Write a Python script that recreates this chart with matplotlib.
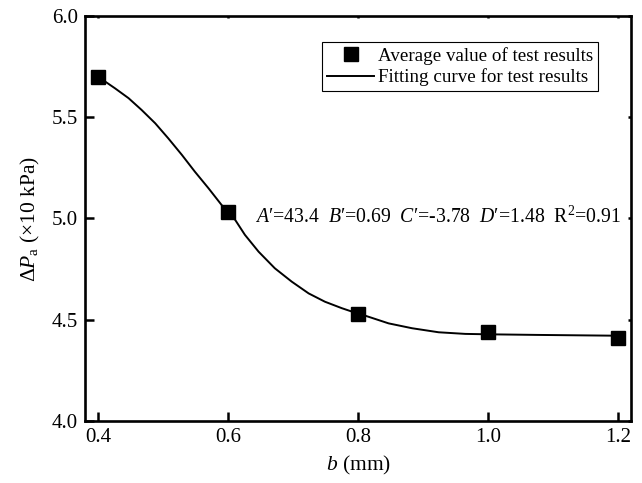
import matplotlib
matplotlib.use("Agg")
import matplotlib.pyplot as plt

plt.rcParams['font.family'] = ['Liberation Serif', 'DejaVu Serif']
plt.rcParams['mathtext.fontset'] = 'custom'
plt.rcParams['mathtext.rm'] = 'Liberation Serif'
plt.rcParams['mathtext.it'] = 'Liberation Serif:italic'

# measured averages
b_test = [0.4, 0.6, 0.8, 1.0, 1.2]
dp_test = [5.70, 5.03, 4.53, 4.44, 4.41]

# fitting curve
b_fit = [0.400, 0.411, 0.426, 0.447, 0.467, 0.488, 0.508, 0.529, 0.549, 0.570,
         0.590, 0.600, 0.611, 0.626, 0.647, 0.672, 0.698, 0.724, 0.749, 0.775,
         0.800, 0.811, 0.847, 0.883, 0.924, 0.965, 1.000, 1.075, 1.200]
dp_fit = [5.700, 5.676, 5.643, 5.594, 5.536, 5.470, 5.396, 5.314, 5.231, 5.149,
          5.067, 5.030, 4.993, 4.919, 4.836, 4.754, 4.688, 4.630, 4.589, 4.557,
          4.530, 4.520, 4.482, 4.458, 4.438, 4.430, 4.428, 4.425, 4.421]

x_ticks = [0.4, 0.6, 0.8, 1.0, 1.2]
y_ticks = [4.0, 4.5, 5.0, 5.5, 6.0]

fig = plt.figure(figsize=(6.42, 4.83), dpi=100)
ax = fig.add_axes([0.1324, 0.1284, 0.8506, 0.8386])

ax.plot(b_fit, dp_fit, color='black', lw=1.4, label='Fitting curve for test results', zorder=2)
ax.plot(b_test, dp_test, ls='none', marker='s', ms=10, color='black',
        label='Average value of test results', zorder=3)

ax.set_xlim(0.38, 1.22)
ax.set_ylim(4.0, 6.0)
ax.set_xticks(x_ticks)
ax.set_yticks(y_ticks)
ax.set_xticklabels(['%.1f' % v for v in x_ticks])
ax.set_yticklabels(['%.1f' % v for v in y_ticks])

for s in ax.spines.values():
    s.set_linewidth(1.9)
ax.tick_params(axis='both', direction='in', length=6.5, width=1.8, labelsize=15, pad=5)
ax.tick_params(top=True, right=True, labeltop=False, labelright=False)
# tiny marks on top / right spines
for t in ax.xaxis.get_major_ticks():
    t.tick2line.set_markersize(1.5)
    t.tick2line.set_marker(3)
for t in ax.yaxis.get_major_ticks():
    t.tick2line.set_markersize(2)
    t.tick2line.set_marker(0)

ax.set_xlabel(r'$b$ (mm)', fontsize=15.5, labelpad=5)
ax.set_ylabel(r'$ΔP_{\mathrm{a}}$ (×10 kPa)', fontsize=15.5, labelpad=7)

ax.text(0.6415, 5.005, r"$A′$=43.4  $B′$=0.69  $C′$=-3.78  $D′$=1.48  R$^2$=0.91",
        fontsize=14.2, va='center', ha='left')

handles, labels = ax.get_legend_handles_labels()
leg = fig.legend(handles[::-1], labels[::-1], loc='upper left',
                 bbox_to_anchor=(0.5016, 0.913), fontsize=13.7, frameon=True,
                 fancybox=False, edgecolor='black', framealpha=1,
                 handlelength=2.5, handletextpad=0.2, borderpad=0.25,
                 labelspacing=0.2, borderaxespad=0)
leg.get_frame().set_linewidth(0.8)

fig.savefig('out.png', dpi=100)
